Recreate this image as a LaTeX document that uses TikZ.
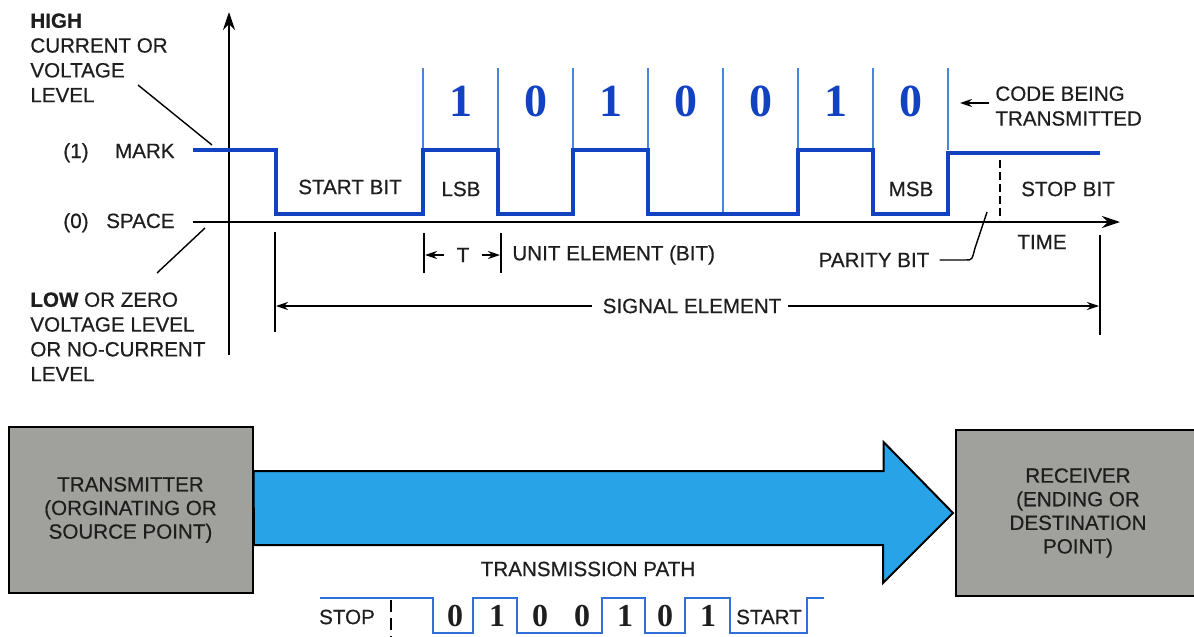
\documentclass[tikz,border=0pt]{standalone}
\usepackage{fontspec}
\setmainfont{Liberation Sans}[FakeBold=0.5]
\newfontfamily\bitfont{Liberation Serif}
\usepackage{xcolor}
\usepackage{tikz}
\usetikzlibrary{arrows.meta}

\definecolor{sigblue}{HTML}{1242C2}
\definecolor{cellblue}{HTML}{4A86D8}
\definecolor{lineblue}{HTML}{2F6FD6}
\definecolor{pathblue}{HTML}{29A3E8}
\definecolor{boxgray}{HTML}{A0A09C}
\definecolor{ink}{HTML}{1E1E1E}

\tikzset{
  lbl/.style={font=\fontsize{10.3}{12.4}\selectfont, text=ink, inner sep=0pt},
  bigbit/.style={font=\bitfont\bfseries\fontsize{23}{23}\selectfont, text=sigblue, inner sep=0pt},
  smallbit/.style={font=\bitfont\bfseries\fontsize{16}{16}\selectfont, text=ink, inner sep=0pt},
  signal/.style={sigblue, line width=2pt},
  axis/.style={line width=1pt, -{Stealth[length=9pt,width=6pt]}},
  leader/.style={line width=0.7pt},
  dim/.style={line width=0.7pt, -{Stealth[length=6pt,width=4pt]}},
  station/.style={draw, line width=1pt, fill=boxgray, align=center, text=ink,
    font=\fontsize{10.3}{11.8}\selectfont, minimum height=83pt}
}

\begin{document}
\begin{tikzpicture}[x=0.5pt, y=-0.5pt]
  \useasboundingbox (0,0) rectangle (1194,637);

  % Axes
  \coordinate (ybot) at (229,355);
  \coordinate (ytop) at (229,12);
  \coordinate (xleft) at (193,222);
  \coordinate (xright) at (1120,222);
  \draw[axis] (ybot) -- (ytop);
  \draw[axis] (xleft) -- (xright);

  % Bit cells and code
  \foreach \x in {423,498,...,948}
    \draw[cellblue, line width=0.6pt] (\x,68) -- (\x,150);
  \draw[cellblue, line width=0.6pt] (723,150) -- (723,214);
  \foreach \b [count=\i] in {1,0,1,0,0,1,0}
    \node[bigbit] (d\i) at ({385.5+75*\i},101) {\b};

  % Serial waveform
  \draw[signal] (193,150) -- (276,150) -- (276,214) -- (423,214) -- (423,150)
    -- (498,150) -- (498,214) -- (573,214) -- (573,150) -- (648,150)
    -- (648,214) -- (798,214) -- (798,150) -- (873,150) -- (873,214)
    -- (948,214) -- (948,153) -- (1100,153);
  \draw[line width=1pt, dash pattern=on 4pt off 2pt] (1000,160) -- (1000,220);

  % Levels
  \node[lbl, anchor=north west, align=left] (high) at (30,13)
    {\textbf{HIGH}\\CURRENT OR\\VOLTAGE\\LEVEL};
  \node[lbl, anchor=north west, align=left] (low) at (30,292)
    {\textbf{LOW} OR ZERO\\VOLTAGE LEVEL\\OR NO-CURRENT\\LEVEL};
  \node[lbl, anchor=base west] (one) at (63,158) {(1)};
  \node[lbl, anchor=base east] (mark) at (175,158) {MARK};
  \node[lbl, anchor=base west] (zero) at (63,228) {(0)};
  \node[lbl, anchor=base east] (space) at (175,228) {SPACE};
  \coordinate (highfrom) at (138,85);
  \coordinate (highto) at (212,145);
  \coordinate (lowfrom) at (205,228);
  \coordinate (lowto) at (157,273);
  \draw[leader] (highfrom) -- (highto);
  \draw[leader] (lowfrom) -- (lowto);

  % Bit names
  \node[lbl] (startbit) at (350,187) {START BIT};
  \node[lbl] (lsb) at (461,189) {LSB};
  \node[lbl] (msb) at (911,189) {MSB};
  \node[lbl] (stopbit) at (1068,189) {STOP BIT};
  \node[lbl] (time) at (1042,242) {TIME};

  \node[lbl, anchor=north west, align=left] (code) at (995,86)
    {CODE BEING\\TRANSMITTED};
  \coordinate (codetip) at (960,103);
  \draw[dim] ([xshift=-3pt]code.west |- 0,103) -- (codetip);

  \node[lbl] (parity) at (874,260) {PARITY BIT};
  \coordinate (paritypt) at (987,212);
  \draw[leader] ([xshift=5pt]parity.east) -- (966,260)
    .. controls (972,260) .. (975,248) -- (paritypt);

  % Unit element
  \draw[leader] (424,233) -- (424,273);
  \draw[leader] (501,233) -- (501,273);
  \node[lbl] (tlbl) at (463,255) {T};
  \coordinate (tleft) at (425,255);
  \coordinate (tright) at (500,255);
  \draw[dim] ([xshift=-6pt]tlbl.west) -- (tleft);
  \draw[dim] ([xshift=6pt]tlbl.east) -- (tright);
  \node[lbl, anchor=west] (unit) at (512,255) {UNIT ELEMENT (BIT)};

  % Signal element
  \draw[leader] (275,232) -- (275,332);
  \draw[leader] (1100,235) -- (1100,335);
  \node[lbl] (sigel) at (692,306) {SIGNAL ELEMENT};
  \coordinate (sleft) at (276,306);
  \coordinate (sright) at (1099,306);
  \draw[dim] ([xshift=-5pt]sigel.west) -- (sleft);
  \draw[dim] ([xshift=3pt]sigel.east) -- (sright);

  % Stations and path
  \node[station, minimum width=122pt] (tx) at (130.5,510)
    {TRANSMITTER\\(ORGINATING OR\\SOURCE POINT)};
  \node[station, minimum width=122pt] (rx) at (1078,513)
    {RECEIVER\\(ENDING OR\\DESTINATION\\POINT)};
  \draw[line width=1pt, fill=pathblue, line join=miter]
    (tx.east) ++(0,-39) -- ++(630,0) -- ++(0,-29) -- ([xshift=-1pt]rx.west)
    -- (883,583) -- (883,545) -- (254,545) -- cycle;
  \node[lbl] (pathlbl) at (588,569) {TRANSMISSION PATH};

  % Bits on the line
  \draw[lineblue, line width=1.4pt] (320,598) -- (433,598) -- (433,633)
    -- (473,633) -- (473,598) -- (517,598) -- (517,633) -- (602,633)
    -- (602,598) -- (645,598) -- (645,633) -- (685,633) -- (685,598)
    -- (730,598) -- (730,633) -- (807,633) -- (807,598) -- (824,598);
  \draw[line width=0.8pt, dash pattern=on 6pt off 3pt] (391,600) -- (391,637);
  \node[lbl] (stop) at (347,617) {STOP};
  \node[lbl] (start) at (769,617) {START};
  \foreach \b/\x [count=\i] in {0/455,1/497,0/540,0/582,1/625,0/665,1/708}
    \node[smallbit] (e\i) at (\x,616) {\b};
\end{tikzpicture}
\end{document}
